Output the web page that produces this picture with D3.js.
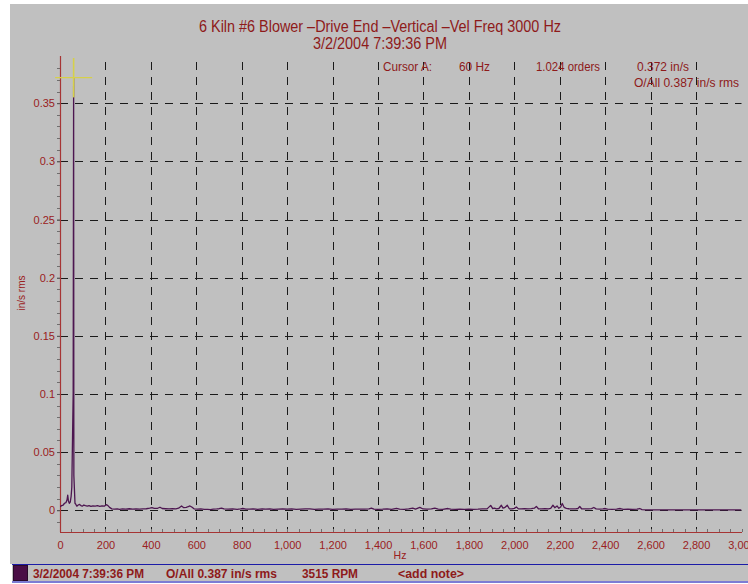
<!DOCTYPE html>
<html>
<head>
<meta charset="utf-8">
<script src="https://cdn.jsdelivr.net/npm/d3@7"></script>
<style>
  html, body { margin: 0; padding: 0; background: #fff; }
  svg { display: block; font-family: "Liberation Sans", Arial, sans-serif; }
</style>
</head>
<body>
<svg id="chart" width="748" height="584"></svg>
<script>
// Velocity spectrum, 6 Kiln #6 Blower, drive end, vertical
const titleLines = ["6 Kiln #6 Blower \u2013Drive End \u2013Vertical \u2013Vel Freq 3000 Hz", "3/2/2004 7:39:36 PM"];
const cursorTexts = ["Cursor A:", "60 Hz", "1.024 orders", "0.372 in/s"];
const overallText = "O/All 0.387 in/s rms";
const statusTexts = ["3/2/2004 7:39:36 PM", "O/All 0.387 in/s rms", "3515 RPM", "<add note>"];
const xTicks = [0, 200, 400, 600, 800, 1000, 1200, 1400, 1600, 1800, 2000, 2200, 2400, 2600, 2800, 3000];
const yTicks = [0, 0.05, 0.1, 0.15, 0.2, 0.25, 0.3, 0.35];
const cursorHz = 60;
const cursorAmp = 0.372;

// Spectrum lines: frequency (Hz) and amplitude (in/s rms)
const spectrumHz = [
  0, 7, 14, 20, 26, 31, 34, 37, 41, 45, 49, 52, 58, 60, 61, 66, 70, 74, 80, 86,
  92, 98, 105, 112, 120, 128, 136, 145, 155, 165, 175, 185, 195, 203, 210, 218, 228, 240, 252, 262,
  275, 290, 305, 320, 335, 350, 365, 380, 395, 405, 415, 430, 440, 450, 465, 480, 495, 510, 522, 535,
  545, 556, 565, 572, 580, 590, 605, 620, 635, 650, 662, 675, 690, 700, 711, 722, 740, 760, 780, 795,
  805, 818, 835, 850, 870, 890, 905, 924, 940, 960, 980, 1000, 1020, 1040, 1060, 1080, 1100, 1120, 1140, 1160,
  1180, 1200, 1220, 1240, 1260, 1280, 1300, 1320, 1340, 1360, 1371, 1382, 1400, 1420, 1440, 1460, 1481, 1495, 1515, 1535,
  1553, 1565, 1584, 1598, 1615, 1635, 1650, 1665, 1685, 1707, 1720, 1740, 1760, 1780, 1800, 1820, 1840, 1860, 1880, 1896,
  1905, 1912, 1922, 1932, 1943, 1950, 1957, 1969, 1978, 1990, 2000, 2009, 2018, 2030, 2045, 2060, 2075, 2088, 2097, 2106,
  2120, 2135, 2150, 2160, 2170, 2178, 2188, 2196, 2204, 2211, 2219, 2229, 2240, 2255, 2270, 2280, 2288, 2296, 2310, 2325,
  2340, 2350, 2360, 2375, 2390, 2400, 2410, 2430, 2450, 2466, 2480, 2500, 2520, 2540, 2552, 2562, 2580, 2620, 2700, 2800,
  2900, 3000
];
const spectrumAmp = [
  0.003, 0.004, 0.0045, 0.006, 0.0065, 0.009, 0.013, 0.008, 0.006, 0.007, 0.012, 0.02, 0.1, 0.372, 0.03, 0.006, 0.005, 0.0035, 0.0045, 0.005,
  0.004, 0.0035, 0.0045, 0.004, 0.0035, 0.004, 0.0033, 0.0038, 0.0036, 0.004, 0.0034, 0.0038, 0.0035, 0.0048, 0.0042, 0.0025, 0.0012, 0.0009, 0.0012, 0.0008,
  0.0011, 0.0009, 0.0013, 0.001, 0.0012, 0.0009, 0.0011, 0.0013, 0.0018, 0.0022, 0.0016, 0.0017, 0.0026, 0.0015, 0.0013, 0.0011, 0.0014, 0.0012, 0.0018, 0.0037,
  0.0022, 0.0024, 0.0032, 0.0037, 0.0028, 0.0012, 0.0009, 0.0011, 0.0008, 0.0007, 0.0005, 0.0009, 0.0011, 0.0013, 0.0019, 0.0011, 0.0009, 0.0012, 0.0008, 0.0011,
  0.0015, 0.001, 0.0009, 0.0012, 0.0008, 0.0011, 0.0009, 0.0012, 0.0008, 0.001, 0.0012, 0.0009, 0.0011, 0.0008, 0.001, 0.0012, 0.0011, 0.0008, 0.001, 0.0009,
  0.0011, 0.0008, 0.001, 0.0009, 0.0011, 0.0008, 0.001, 0.0009, 0.001, 0.0011, 0.0018, 0.001, 0.0008, 0.0009, 0.0011, 0.0008, 0.0016, 0.0009, 0.0008, 0.0011,
  0.0018, 0.001, 0.0024, 0.0011, 0.0009, 0.0011, 0.0018, 0.001, 0.0008, 0.0015, 0.0009, 0.0008, 0.0009, 0.0008, 0.0009, 0.0008, 0.0009, 0.0011, 0.0012, 0.0042,
  0.0014, 0.0018, 0.0012, 0.0015, 0.0043, 0.0018, 0.0022, 0.0043, 0.0013, 0.0012, 0.0016, 0.0028, 0.0012, 0.0011, 0.0013, 0.0012, 0.0014, 0.0018, 0.0033, 0.0013,
  0.0012, 0.0013, 0.0012, 0.0016, 0.0043, 0.0022, 0.0037, 0.0017, 0.0028, 0.0058, 0.0025, 0.0017, 0.0013, 0.0012, 0.0012, 0.0015, 0.0032, 0.0013, 0.0011, 0.0012,
  0.0014, 0.0024, 0.0012, 0.001, 0.0011, 0.0015, 0.0009, 0.0008, 0.001, 0.0015, 0.0008, 0.0009, 0.0008, 0.0009, 0.0015, 0.0006, 0.0004, 0.0003, 0.0003, 0.0003,
  0.0003, 0.0003
];

const svg = d3.select("#chart");
const W = 748, H = 584;
const plot = { left: 60, right: 741.5, top: 56, bottom: 532 };
const red = "#8e1a1a", tickRed = "#9a2121", axisRed = "#a63434";

const x = d3.scaleLinear().domain([0, 3000]).range([plot.left, plot.right]);
const y = d3.scaleLinear().domain([-0.0187, 0.3906]).range([plot.bottom, plot.top]);

// panels
svg.append("rect").attr("width", W).attr("height", H).attr("fill", "#fff");
svg.append("rect").attr("x", 10).attr("y", 4).attr("width", 738).attr("height", 560).attr("fill", "#c0c0c0");
svg.append("rect").attr("x", 12).attr("y", 564).attr("width", 736).attr("height", 18).attr("fill", "#c0c0c0");
svg.append("line").attr("x1", 12).attr("x2", W).attr("y1", 564.5).attr("y2", 564.5).attr("stroke", "#1c1ca8").attr("stroke-width", 1);
svg.append("line").attr("x1", 12).attr("x2", W).attr("y1", 582).attr("y2", 582).attr("stroke", "#7c7cd4").attr("stroke-width", 2);

// title
svg.append("text").attr("x", 380).attr("y", 32).attr("text-anchor", "middle")
  .attr("font-size", 16).attr("fill", red)
  .attr("textLength", 362).attr("lengthAdjust", "spacingAndGlyphs").text(titleLines[0]);
svg.append("text").attr("x", 380).attr("y", 49).attr("text-anchor", "middle")
  .attr("font-size", 16).attr("fill", red)
  .attr("textLength", 134).attr("lengthAdjust", "spacingAndGlyphs").text(titleLines[1]);

// grid
const grid = svg.append("g").attr("stroke", "#1a1a1a").attr("stroke-width", 1).attr("stroke-dasharray", "8,7");
grid.selectAll("line.v").data(xTicks.filter(t => t > 0 && t < 3000)).join("line")
  .attr("x1", d => Math.round(x(d)) + 0.5).attr("x2", d => Math.round(x(d)) + 0.5)
  .attr("y1", plot.top + 6).attr("y2", plot.bottom);
grid.selectAll("line.h").data(yTicks).join("line")
  .attr("x1", plot.left).attr("x2", plot.right)
  .attr("y1", d => Math.round(y(d)) + 0.5).attr("y2", d => Math.round(y(d)) + 0.5);

// minor ticks
const yMinor = d3.range(-1, 39).map(i => i / 100).filter(v => y(v) <= plot.bottom && y(v) >= plot.top);
svg.append("g").selectAll("line").data(yMinor).join("line")
  .attr("x1", plot.left - 3).attr("x2", plot.left)
  .attr("y1", d => Math.round(y(d)) + 0.5).attr("y2", d => Math.round(y(d)) + 0.5)
  .attr("stroke", "#6e6e6e");
const xMinor = d3.range(0, 3001, 50);
svg.append("g").selectAll("line").data(xMinor).join("line")
  .attr("x1", d => Math.round(x(d)) + 0.5).attr("x2", d => Math.round(x(d)) + 0.5)
  .attr("y1", plot.bottom - 3).attr("y2", plot.bottom)
  .attr("stroke", "#6e6e6e");

// axes
const xAxis = svg.append("g").attr("transform", `translate(0,${plot.bottom})`)
  .call(d3.axisBottom(x).tickValues(xTicks).tickFormat(d3.format(",")).tickSize(0).tickPadding(9));
xAxis.select(".domain").remove();
xAxis.selectAll("text").attr("fill", tickRed).attr("font-size", 11)
  .attr("font-family", "'Liberation Sans', Arial, sans-serif");
const yAxis = svg.append("g").attr("transform", `translate(${plot.left},0)`)
  .call(d3.axisLeft(y).tickValues(yTicks).tickFormat(d => String(+d.toFixed(2))).tickSize(3).tickPadding(2));
yAxis.select(".domain").remove();
yAxis.selectAll("line").attr("stroke", "#555");
yAxis.selectAll("text").attr("fill", tickRed).attr("font-size", 11)
  .attr("font-family", "'Liberation Sans', Arial, sans-serif");

svg.append("line").attr("x1", plot.left + 0.5).attr("x2", plot.left + 0.5)
  .attr("y1", plot.top).attr("y2", plot.bottom).attr("stroke", axisRed).attr("stroke-width", 1.2);
svg.append("line").attr("x1", plot.left).attr("x2", plot.right + 0.5)
  .attr("y1", plot.bottom + 0.5).attr("y2", plot.bottom + 0.5).attr("stroke", axisRed).attr("stroke-width", 1.2);

svg.append("text").attr("x", 400).attr("y", 559).attr("text-anchor", "middle")
  .attr("font-size", 10.5).attr("fill", tickRed).text("Hz");
svg.append("text").attr("transform", "translate(25,293) rotate(-90)").attr("text-anchor", "middle")
  .attr("font-size", 10).attr("fill", tickRed).text("in/s  rms");

// spectrum trace
svg.append("clipPath").attr("id", "plotClip").append("rect")
  .attr("x", plot.left).attr("y", plot.top).attr("width", plot.right - plot.left).attr("height", plot.bottom - plot.top);
const spectrum = spectrumHz.map((hz, i) => ({ hz, amp: spectrumAmp[i] }));
svg.append("path").datum(spectrum)
  .attr("clip-path", "url(#plotClip)")
  .attr("fill", "none").attr("stroke", "#4d1650").attr("stroke-width", 1.3).attr("stroke-linejoin", "round")
  .attr("d", d3.line().x(d => x(d.hz)).y(d => y(d.amp)));

// cursor A
const cx = x(cursorHz), cy = y(cursorAmp);
svg.append("line").attr("x1", cx).attr("x2", cx).attr("y1", plot.top + 2).attr("y2", y(0.355))
  .attr("stroke", "#d6d04a").attr("stroke-width", 1.6);
svg.append("line").attr("x1", cx - 18.5).attr("x2", cx + 18.5).attr("y1", cy).attr("y2", cy)
  .attr("stroke", "#d6d04a").attr("stroke-width", 1.3);

// cursor readout
const readout = [
  { t: cursorTexts[0], x: 383, w: 49 },
  { t: cursorTexts[1], x: 459, w: 31 },
  { t: cursorTexts[2], x: 536, w: 64 },
  { t: cursorTexts[3], x: 637, w: 52 }
];
svg.append("g").selectAll("text").data(readout).join("text")
  .attr("x", d => d.x).attr("y", 71).attr("font-size", 12.5).attr("fill", red)
  .attr("textLength", d => d.w).attr("lengthAdjust", "spacingAndGlyphs").text(d => d.t);
svg.append("text").attr("x", 634).attr("y", 87).attr("font-size", 12.5).attr("fill", red)
  .attr("textLength", 105).attr("lengthAdjust", "spacingAndGlyphs").text(overallText);

// status bar
svg.append("rect").attr("x", 13.5).attr("y", 565.5).attr("width", 14).attr("height", 15)
  .attr("fill", "#4a0e46").attr("stroke", "#2a0a2a");
const status = [
  { t: statusTexts[0], x: 33, w: 111 },
  { t: statusTexts[1], x: 166, w: 111 },
  { t: statusTexts[2], x: 302, w: 56 },
  { t: statusTexts[3], x: 398, w: 66 }
];
svg.append("g").selectAll("text").data(status).join("text")
  .attr("x", d => d.x).attr("y", 578).attr("font-size", 12.5).attr("font-weight", "bold")
  .attr("fill", red).attr("textLength", d => d.w).attr("lengthAdjust", "spacingAndGlyphs").text(d => d.t);
</script>
</body>
</html>
